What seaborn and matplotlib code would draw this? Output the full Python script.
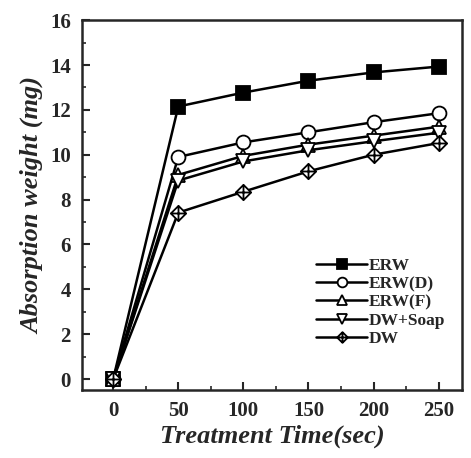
import numpy as np
import pandas as pd
import matplotlib
matplotlib.use("Agg")
import matplotlib.pyplot as plt
from matplotlib.path import Path
from matplotlib.ticker import MultipleLocator
import seaborn as sns

time_sec = [0, 50, 100, 150, 200, 250]
erw = [0.0, 12.15, 12.77, 13.3, 13.67, 13.93]
erw_d = [0.0, 9.9, 10.55, 11.0, 11.45, 11.85]
erw_f = [0.0, 9.1, 9.95, 10.45, 10.85, 11.25]
dw_soap = [0.0, 8.85, 9.7, 10.2, 10.6, 10.98]
dw = [0.0, 7.42, 8.35, 9.26, 10.0, 10.52]

series = ["ERW", "ERW(D)", "ERW(F)", "DW+Soap", "DW"]
values = [erw, erw_d, erw_f, dw_soap, dw]

df = pd.DataFrame({
    "time": np.tile(time_sec, len(series)),
    "weight": np.concatenate(values),
    "series": np.repeat(series, len(time_sec)),
})

# diamond with cross marker
diamond_cross = Path(
    [(0, -1), (1, 0), (0, 1), (-1, 0), (0, -1),
     (0, -1), (0, 1), (-1, 0), (1, 0)],
    [Path.MOVETO, Path.LINETO, Path.LINETO, Path.LINETO, Path.CLOSEPOLY,
     Path.MOVETO, Path.LINETO, Path.MOVETO, Path.LINETO],
)

styles = {
    "ERW": dict(marker="s", mfc="black", ms=9.5),
    "ERW(D)": dict(marker="o", mfc="white", ms=10),
    "ERW(F)": dict(marker="^", mfc="white", ms=10),
    "DW+Soap": dict(marker="v", mfc="white", ms=10),
    "DW": dict(marker=diamond_cross, mfc="white", ms=11),
}

sns.set_style("ticks")
plt.rcParams["font.family"] = ["Liberation Serif", "DejaVu Serif"]
plt.rcParams["font.weight"] = "bold"

fig = plt.figure(figsize=(4.71, 4.58), dpi=100)
ax = fig.add_axes([0.174, 0.148, 0.807, 0.808])

for name in series:
    st = styles[name]
    sub = df[df["series"] == name]
    sns.lineplot(data=sub, x="time", y="weight", ax=ax, color="black",
                 linewidth=1.8, marker=st["marker"], markersize=st["ms"],
                 markerfacecolor=st["mfc"], markeredgecolor="black",
                 markeredgewidth=1.3, label=name, estimator=None)

ax.set_xlim(-24, 268)
ax.set_ylim(-0.5, 16)
ax.set_xticks(time_sec)
ax.set_yticks(np.arange(0, 17, 2))
ax.xaxis.set_minor_locator(MultipleLocator(25))
ax.yaxis.set_minor_locator(MultipleLocator(1))
ax.tick_params(axis="both", which="major", direction="in", length=6, width=1.5,
               labelsize=15, pad=8)
ax.tick_params(axis="both", which="minor", direction="in", length=3, width=1.2)
for lab in ax.get_xticklabels() + ax.get_yticklabels():
    lab.set_fontweight("bold")
for sp in ax.spines.values():
    sp.set_linewidth(1.8)
    sp.set_visible(True)

ax.set_xlabel("Treatment Time(sec)", fontsize=19, fontweight="bold",
              fontstyle="italic", labelpad=2)
ax.set_ylabel("Absorption weight (mg)", fontsize=19, fontweight="bold",
              fontstyle="italic", labelpad=4)

leg = ax.legend(loc="lower left", bbox_to_anchor=(0.585, 0.084), frameon=False,
                fontsize=12.5, handlelength=2.9, handletextpad=0.1,
                labelspacing=0.12, borderpad=0.2, markerscale=0.7)
for t in leg.get_texts():
    t.set_fontweight("bold")

fig.savefig("out.png", dpi=100)
